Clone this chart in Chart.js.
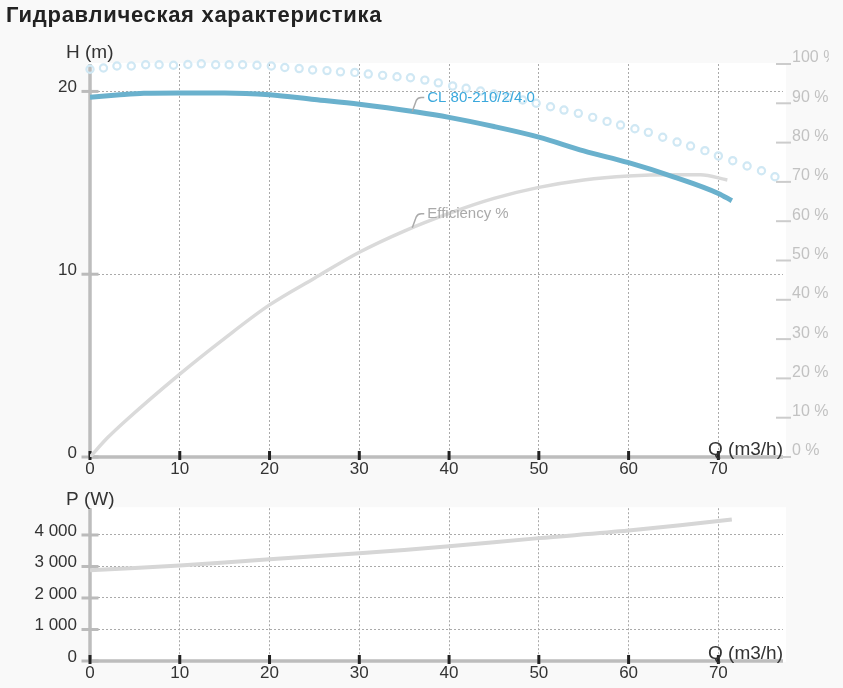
<!DOCTYPE html>
<html>
<head>
<meta charset="utf-8">
<script src="https://cdn.jsdelivr.net/npm/chart.js@4.4.1/dist/chart.umd.min.js"></script>
<style>
  html, body { margin: 0; padding: 0; background: #f9f9f9; }
  body { width: 843px; height: 688px; position: relative; overflow: hidden; font-family: "Liberation Sans", Arial, sans-serif; }
  h1 { position: absolute; left: 6px; top: 2px; margin: 0; font-size: 22px; line-height: 26px; letter-spacing: 0.7px; font-weight: bold; color: #222; z-index: 2; }
  #head { position: absolute; left: 0; top: 0; }
  #power { position: absolute; left: 0; top: 485px; }
</style>
</head>
<body>
<canvas id="head" width="829" height="485"></canvas>
<canvas id="power" width="829" height="203"></canvas>
<h1>Гидравлическая характеристика</h1>
<script>
// ─── Data ──────────────────────────────────────────────────
const X_TICKS = [0, 10, 20, 30, 40, 50, 60, 70];
const H_TICKS = [0, 10, 20];
const PCT_TICKS = [0, 10, 20, 30, 40, 50, 60, 70, 80, 90, 100];
const P_TICKS = [0, 1000, 2000, 3000, 4000];

// pump head curve CL 80-210/2/4.0
const HEAD_Q = [0, 3, 6, 10, 15, 20, 25, 30, 36.4, 40, 45, 50, 55, 60, 65, 70, 71.5];
const HEAD_H = [19.68, 19.8, 19.9, 19.92, 19.92, 19.82, 19.56, 19.3, 18.87, 18.58, 18.08, 17.5, 16.75, 16.1, 15.33, 14.42, 14.02];

// efficiency %
const EFF_Q = [0, 2, 4, 10, 15, 20, 25, 30, 35, 40, 45, 50, 55, 60, 65, 68, 71];
const EFF_PCT = [0, 5, 9.3, 21.1, 30.2, 38.7, 45.5, 52.1, 57.5, 62, 65.8, 68.6, 70.5, 71.5, 71.8, 71.8, 70.5];

// dotted (circle) curve
const DOT_Q = [0, 1.5, 3.0, 4.6, 6.2, 7.7, 9.3, 10.9, 12.4, 14.0, 15.5, 17.0, 18.6, 20.2, 21.7, 23.3, 24.8, 26.4, 27.9, 29.5,
  31.0, 32.6, 34.2, 35.7, 37.3, 38.8, 40.4, 41.9, 43.5, 45.0, 46.6, 48.2, 49.7, 51.3, 52.8, 54.4, 56.0, 57.6, 59.1, 60.7,
  62.2, 63.8, 65.4, 66.9, 68.5, 70.0, 71.6, 73.2, 74.8, 76.3];
const DOT_H = [21.21, 21.28, 21.39, 21.39, 21.46, 21.46, 21.43, 21.47, 21.51, 21.46, 21.46, 21.46, 21.43, 21.39, 21.31, 21.25, 21.17, 21.14, 21.07, 21.04,
  20.95, 20.88, 20.8, 20.75, 20.62, 20.47, 20.3, 20.17, 20.02, 19.86, 19.69, 19.53, 19.35, 19.16, 18.98, 18.8, 18.58, 18.36, 18.16, 17.96,
  17.76, 17.49, 17.23, 17.01, 16.76, 16.47, 16.21, 15.92, 15.66, 15.33];

// power P (W)
const POWER_Q = [0, 10, 20, 30, 40, 50, 60, 71.5];
const POWER_W = [2880, 3030, 3230, 3420, 3640, 3900, 4140, 4490];

const Q_MAX = 77.2;
const H_MAX = 21.5;
const P_MAX = 4850;

const FONT = '"Liberation Sans", Arial, sans-serif';
Chart.defaults.font.family = FONT;

const pts = (xs, ys) => xs.map((x, i) => ({ x, y: ys[i] }));
const onlyTicks = list => scale => { scale.ticks = list.map(v => ({ value: v })); };
const thousands = v => String(v).replace(/\B(?=(\d{3})+(?!\d))/g, ' ');

function interp(xs, ys, q) {
  for (let i = 1; i < xs.length; i++) {
    if (q <= xs[i]) {
      const t = (q - xs[i - 1]) / (xs[i] - xs[i - 1]);
      return ys[i - 1] + t * (ys[i] - ys[i - 1]);
    }
  }
  return ys[ys.length - 1];
}

// axes, tick marks, titles, callouts
const decor = {
  id: 'decor',
  beforeDraw(chart) {
    const { ctx, chartArea: a } = chart;
    ctx.save();
    ctx.fillStyle = '#ffffff';
    ctx.fillRect(a.left - 2, a.top - 1, a.right - a.left + 5, a.bottom - a.top + 2);
    ctx.restore();
  },
  beforeDatasetsDraw(chart) {
    const { ctx, chartArea: a, scales } = chart;
    ctx.save();
    ctx.lineCap = 'butt';
    ctx.strokeStyle = '#bdbdbd';
    ctx.lineWidth = 3.5;
    ctx.beginPath();
    ctx.moveTo(a.left, a.top); ctx.lineTo(a.left, a.bottom);
    ctx.moveTo(a.left, a.bottom); ctx.lineTo(a.right, a.bottom);
    ctx.stroke();

    ctx.strokeStyle = '#bbbbbb';
    ctx.lineWidth = 3;
    scales.y.ticks.forEach(t => {
      const py = scales.y.getPixelForValue(t.value);
      ctx.beginPath(); ctx.moveTo(a.left - 8.5, py); ctx.lineTo(a.left + 8.5, py); ctx.stroke();
    });
    if (scales.y2) {
      ctx.strokeStyle = '#cccccc';
      ctx.lineWidth = 2;
      scales.y2.ticks.forEach(t => {
        const py = scales.y2.getPixelForValue(t.value);
        ctx.beginPath(); ctx.moveTo(a.right - 7, py); ctx.lineTo(a.right + 8, py); ctx.stroke();
      });
    }
    ctx.strokeStyle = '#222222';
    ctx.lineWidth = 3;
    scales.x.ticks.forEach(t => {
      const px = scales.x.getPixelForValue(t.value);
      ctx.beginPath(); ctx.moveTo(px, a.bottom - 6); ctx.lineTo(px, a.bottom + 3); ctx.stroke();
    });
    ctx.restore();
  },
  afterDatasetsDraw(chart, args, o) {
    const { ctx, chartArea: a, scales } = chart;
    ctx.save();
    ctx.fillStyle = '#333333';
    ctx.font = '19px ' + FONT;
    ctx.textBaseline = 'middle';
    ctx.textAlign = 'left';
    ctx.fillText(o.yTitle, a.left - 24, a.top - o.yTitleUp);
    ctx.textAlign = 'right';
    ctx.fillText('Q (m3/h)', a.right, a.bottom - 7.5);

    (o.callouts || []).forEach(c => {
      const sc = scales[c.axis];
      const x0 = scales.x.getPixelForValue(c.q);
      const y0 = sc.getPixelForValue(interp(c.xs, c.ys, c.q));
      ctx.strokeStyle = '#aaaaaa';
      ctx.lineWidth = 1.5;
      ctx.beginPath();
      ctx.moveTo(x0, y0);
      ctx.lineTo(x0 + 4, y0 - 11);
      ctx.quadraticCurveTo(x0 + 5.5, y0 - 14, x0 + 9, y0 - 14);
      ctx.lineTo(x0 + 12, y0 - 14);
      ctx.stroke();
      ctx.fillStyle = c.color;
      ctx.font = '15px ' + FONT;
      ctx.textAlign = 'left';
      ctx.fillText(c.text, x0 + 15, y0 - 14);
    });
    ctx.restore();
  }
};

const gridX = {
  type: 'linear', min: 0, max: Q_MAX,
  afterBuildTicks: onlyTicks(X_TICKS),
  ticks: { color: '#333', font: { size: 17 }, padding: 2, maxRotation: 0 },
  grid: { color: '#aaaaaa', lineWidth: 1, drawTicks: false },
  border: { display: false, dash: [2, 2] },
};

// ─── Head / efficiency chart ───────────────────────────────
new Chart(document.getElementById('head'), {
  type: 'line',
  data: {
    datasets: [
      {
        label: 'CL 80-210/2/4.0',
        data: pts(HEAD_Q, HEAD_H),
        yAxisID: 'y',
        borderColor: '#6ab1cd',
        borderWidth: 5,
        pointRadius: 0,
        tension: 0.4,
        cubicInterpolationMode: 'monotone',
        order: 0,
      },
      {
        label: 'Efficiency %',
        data: pts(EFF_Q, EFF_PCT),
        yAxisID: 'y2',
        borderColor: '#dadada',
        borderWidth: 3.5,
        pointRadius: 0,
        cubicInterpolationMode: 'monotone',
        order: 1,
      },
      {
        label: 'dots',
        data: pts(DOT_Q, DOT_H),
        yAxisID: 'y',
        showLine: false,
        pointRadius: 3.6,
        pointBorderWidth: 2.2,
        pointBorderColor: '#d0e8f4',
        pointBackgroundColor: 'rgba(255,255,255,0)',
        clip: false,
        order: 2,
      },
    ]
  },
  options: {
    responsive: false,
    animation: false,
    events: [],
    layout: { padding: { top: 64 } },
    plugins: {
      legend: { display: false },
      tooltip: { enabled: false },
      decor: {
        yTitle: 'H (m)', yTitleUp: 11,
        callouts: [
          { text: 'CL 80-210/2/4.0', color: '#3aa8dc', q: 35.9, xs: HEAD_Q, ys: HEAD_H, axis: 'y' },
          { text: 'Efficiency %', color: '#aaaaaa', q: 35.9, xs: EFF_Q, ys: EFF_PCT, axis: 'y2' },
        ]
      }
    },
    scales: {
      x: { ...gridX, afterFit: s => { s.height = 28; } },
      y: {
        position: 'left', min: 0, max: H_MAX,
        afterBuildTicks: onlyTicks(H_TICKS),
        afterFit: s => { s.width = 90; },
        ticks: { color: '#333', font: { size: 17 }, padding: 13, labelOffset: -4 },
        grid: { color: '#aaaaaa', lineWidth: 1, drawTicks: false },
        border: { display: false, dash: [2, 2] },
      },
      y2: {
        position: 'right', min: 0, max: 100,
        afterBuildTicks: onlyTicks(PCT_TICKS),
        afterFit: s => { s.width = 46; },
        ticks: { color: '#c2c2c2', font: { size: 16 }, padding: 9, labelOffset: -6, callback: v => v + ' %' },
        grid: { display: false, drawTicks: false },
        border: { display: false },
      },
    }
  },
  plugins: [decor]
});

// ─── Power chart ───────────────────────────────────────────
new Chart(document.getElementById('power'), {
  type: 'line',
  data: {
    datasets: [{
      label: 'P',
      data: pts(POWER_Q, POWER_W),
      borderColor: '#d6d6d6',
      borderWidth: 4,
      pointRadius: 0,
      tension: 0.3,
    }]
  },
  options: {
    responsive: false,
    animation: false,
    events: [],
    layout: { padding: { top: 20, right: 46 } },
    plugins: {
      legend: { display: false },
      tooltip: { enabled: false },
      decor: { yTitle: 'P (W)', yTitleUp: 8 }
    },
    scales: {
      x: { ...gridX, afterFit: s => { s.height = 27; } },
      y: {
        position: 'left', min: 0, max: P_MAX,
        afterBuildTicks: onlyTicks(P_TICKS),
        afterFit: s => { s.width = 90; },
        ticks: { color: '#333', font: { size: 17 }, padding: 13, labelOffset: -4, callback: v => thousands(v) },
        grid: { color: '#aaaaaa', lineWidth: 1, drawTicks: false },
        border: { display: false, dash: [2, 2] },
      },
    }
  },
  plugins: [decor]
});
</script>
</body>
</html>
